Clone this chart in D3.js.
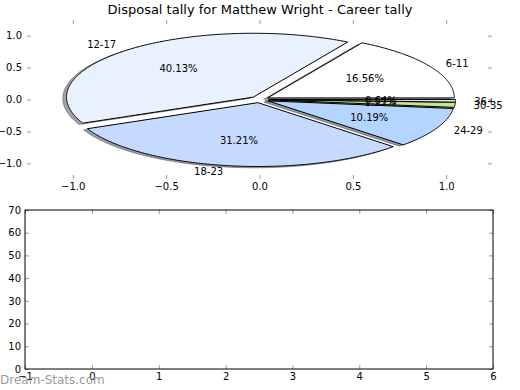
<!DOCTYPE html>
<html><head><meta charset="utf-8">
<script src="https://cdn.jsdelivr.net/npm/d3@7"></script>
<style>body{margin:0;background:#fff} svg{display:block} text{font-family:"DejaVu Sans",sans-serif}</style>
</head><body><svg id="c" width="520" height="390"></svg>
<script>
const title = "Disposal tally for Matthew Wright - Career tally";
const categories = ["6-11", "12-17", "18-23", "24-29", "30-35", "36+"];
const values = [16.56, 40.13, 31.21, 10.19, 1.27, 0.64];
const colors = ["#ffffff", "#eaf1fe", "#c6d9fe", "#b4d5ff", "#c8e68c", "#e4f2ff"];
const explode = [0.05, 0.05, 0.05, 0.05, 0.05, 0.05];
const pieTicks = [-1.0, -0.5, 0.0, 0.5, 1.0];
const barXTicks = [-1, 0, 1, 2, 3, 4, 5, 6];
const barYTicks = [0, 10, 20, 30, 40, 50, 60, 70];
const watermark = "Dream-Stats.com";

const svg = d3.select("#c");
const tickCol = "#999";

// ---------- Pie axes ----------
const px = d3.scaleLinear().domain([-1.245, 1.245]).range([27, 492]);
const py = d3.scaleLinear().domain([-1.245, 1.245]).range([179, 20]);

function styleAxis(g, labels) {
  g.select(".domain").remove();
  g.selectAll(".tick line").attr("stroke", tickCol).attr("stroke-width", 1);
  g.selectAll(".tick text").attr("fill", "#000").style("font-size", "10px")
    .style("font-family", "DejaVu Sans, sans-serif");
  if (!labels) g.selectAll(".tick text").remove();
}
const f1 = d3.format(".1f");
svg.append("g").attr("transform", "translate(0,179)")
  .call(d3.axisBottom(px).tickValues(pieTicks).tickFormat(f1).tickSizeInner(-4).tickSizeOuter(0).tickPadding(4))
  .call(g => styleAxis(g, true));
svg.append("g").attr("transform", "translate(0,20)")
  .call(d3.axisTop(px).tickValues(pieTicks).tickSizeInner(-4).tickSizeOuter(0))
  .call(g => styleAxis(g, false));
svg.append("g").attr("transform", "translate(27,0)")
  .call(d3.axisLeft(py).tickValues(pieTicks).tickFormat(f1).tickSizeInner(-4).tickSizeOuter(0).tickPadding(5))
  .call(g => styleAxis(g, true));
svg.append("g").attr("transform", "translate(492,0)")
  .call(d3.axisRight(py).tickValues(pieTicks).tickSizeInner(-4).tickSizeOuter(0))
  .call(g => styleAxis(g, false));

// pie geometry (matplotlib convention: counter-clockwise from +x)
const arcs = d3.pie().sort(null).startAngle(0).endAngle(2 * Math.PI)(values);
const line = d3.line().x(d => px(d[0])).y(d => py(d[1]));
function wedgePts(a, i, ox, oy) {
  const mid = (a.startAngle + a.endAngle) / 2;
  const cx = explode[i] * Math.cos(mid) + ox, cy = explode[i] * Math.sin(mid) + oy;
  const pts = [[cx, cy]];
  const n = Math.max(2, Math.ceil((a.endAngle - a.startAngle) / (Math.PI / 360)));
  for (let k = 0; k <= n; k++) {
    const t = a.startAngle + (a.endAngle - a.startAngle) * k / n;
    pts.push([cx + Math.cos(t), cy + Math.sin(t)]);
  }
  return pts;
}
function darken(c) {
  const r = d3.rgb(c);
  return d3.rgb(r.r * 0.3, r.g * 0.3, r.b * 0.3).toString();
}
const gp = svg.append("g");
// shadows
gp.selectAll("path.shadow").data(arcs).join("path").attr("class", "shadow")
  .attr("d", (a, i) => line(wedgePts(a, i, -0.02, -0.02)) + "Z")
  .attr("fill", (a, i) => darken(colors[i])).attr("fill-opacity", 0.5)
  .attr("stroke", (a, i) => darken(colors[i])).attr("stroke-opacity", 0.5).attr("stroke-width", 1);
// wedges
gp.selectAll("path.wedge").data(arcs).join("path").attr("class", "wedge")
  .attr("d", (a, i) => line(wedgePts(a, i, 0, 0)) + "Z")
  .attr("fill", (a, i) => colors[i]).attr("stroke", "#000").attr("stroke-width", 1)
  .attr("stroke-linejoin", "miter");

// labels
arcs.forEach((a, i) => {
  const mid = (a.startAngle + a.endAngle) / 2;
  const cx = explode[i] * Math.cos(mid), cy = explode[i] * Math.sin(mid);
  const lx = cx + 1.1 * Math.cos(mid), ly = cy + 1.1 * Math.sin(mid);
  svg.append("text").attr("x", px(lx)).attr("y", py(ly)).attr("dy", "0.36em")
    .attr("text-anchor", lx > 0 ? "start" : "end").style("font-size", "10px").text(categories[i]);
  const tx = cx + 0.6 * Math.cos(mid), ty = cy + 0.6 * Math.sin(mid);
  svg.append("text").attr("x", px(tx)).attr("y", py(ty)).attr("dy", "0.36em")
    .attr("text-anchor", "middle").style("font-size", "10px").text(d3.format(".2f")(values[i]) + "%");
});

svg.append("text").attr("x", 260).attr("y", 14).attr("text-anchor", "middle")
  .style("font-size", "13px").text(title);

// ---------- Bottom (empty) axes ----------
const bx = d3.scaleLinear().domain([-1, 6]).range([25, 493]);
const by = d3.scaleLinear().domain([0, 70]).range([369, 210]);
const fi = d3.format("d");
svg.append("g").attr("transform", "translate(0,369)")
  .call(d3.axisBottom(bx).tickValues(barXTicks).tickFormat(fi).tickSizeInner(-4).tickSizeOuter(0).tickPadding(4))
  .call(g => styleAxis(g, true));
svg.append("g").attr("transform", "translate(0,210)")
  .call(d3.axisTop(bx).tickValues(barXTicks).tickSizeInner(-4).tickSizeOuter(0))
  .call(g => styleAxis(g, false));
svg.append("g").attr("transform", "translate(25,0)")
  .call(d3.axisLeft(by).tickValues(barYTicks).tickFormat(fi).tickSizeInner(-4).tickSizeOuter(0).tickPadding(4))
  .call(g => styleAxis(g, true));
svg.append("g").attr("transform", "translate(493,0)")
  .call(d3.axisRight(by).tickValues(barYTicks).tickSizeInner(-4).tickSizeOuter(0))
  .call(g => styleAxis(g, false));
svg.append("rect").attr("x", bx(-1)).attr("y", by(70)).attr("width", bx(6) - bx(-1)).attr("height", by(0) - by(70))
  .attr("fill", "none").attr("stroke", "#000").attr("stroke-width", 1);

svg.append("text").attr("x", 0).attr("y", 384).style("font-size", "12px")
  .attr("fill", "#8c8c8c").attr("fill-opacity", 0.9).text(watermark);
</script></body></html>
